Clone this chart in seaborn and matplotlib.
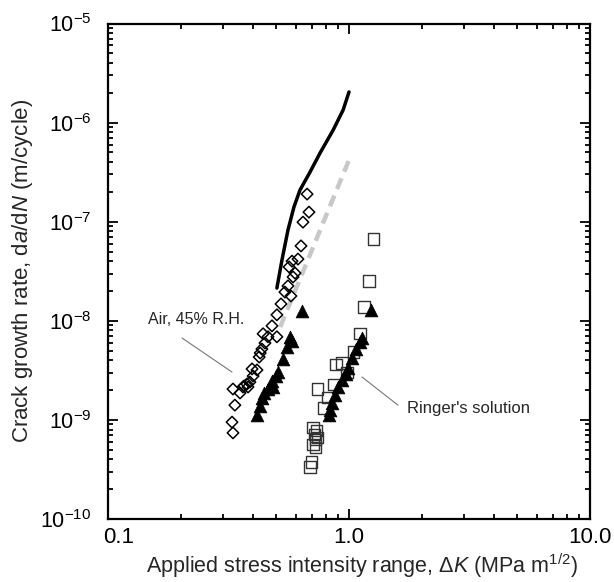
import numpy as np
import pandas as pd
import matplotlib
matplotlib.use("Agg")
import matplotlib.pyplot as plt
import matplotlib.transforms as mtransforms
import seaborn as sns
from matplotlib.ticker import NullFormatter, LogLocator

# values
air_open_dk = [0.670, 0.682, 0.644, 0.632, 0.614, 0.580, 0.564, 0.597, 0.586, 0.558,
               0.542, 0.574, 0.522, 0.502, 0.479, 0.440, 0.461, 0.502, 0.448, 0.435,
               0.428, 0.424, 0.396, 0.415, 0.400, 0.388, 0.377, 0.367, 0.381, 0.363,
               0.330, 0.353, 0.336, 0.327, 0.330]
air_open_rate = [1.90e-7, 1.25e-7, 9.9e-8, 5.7e-8, 4.2e-8, 4.0e-8, 3.5e-8, 3.03e-8, 2.77e-8, 2.25e-8,
                 1.95e-8, 1.78e-8, 1.48e-8, 1.15e-8, 8.9e-9, 7.4e-9, 6.9e-9, 6.9e-9, 5.97e-9, 5.19e-9,
                 4.73e-9, 4.31e-9, 3.27e-9, 3.19e-9, 2.77e-9, 2.41e-9, 2.30e-9, 2.20e-9, 2.15e-9, 2.15e-9,
                 2.05e-9, 1.87e-9, 1.41e-9, 9.5e-10, 7.4e-10]

air_filled_dk = [0.638, 0.569, 0.580, 0.553, 0.532, 0.507, 0.498, 0.479, 0.484, 0.461,
                 0.444, 0.435, 0.427, 0.415]
air_filled_rate = [1.26e-8, 6.9e-9, 6.25e-9, 5.44e-9, 4.12e-9, 3.04e-9, 2.77e-9, 2.47e-9, 2.15e-9, 2.05e-9,
                   1.87e-9, 1.66e-9, 1.38e-9, 1.12e-9]

ringer_open_dk = [1.259, 1.210, 1.154, 1.111, 1.040, 0.935, 0.883, 0.981, 0.866, 0.743,
                  0.818, 0.787, 0.709, 0.736, 0.716, 0.743, 0.723, 0.709, 0.729, 0.696, 0.689]
ringer_open_rate = [6.7e-8, 2.52e-8, 1.38e-8, 7.4e-9, 4.84e-9, 3.75e-9, 3.66e-9, 3.04e-9, 2.3e-9, 2.05e-9,
                    1.70e-9, 1.32e-9, 8.3e-10, 7.9e-10, 7.2e-10, 6.7e-10, 6.3e-10, 5.7e-10, 5.3e-10, 3.76e-10, 3.35e-10]

ringer_filled_dk = [1.234, 1.132, 1.111, 1.069, 1.028, 0.990, 0.972, 0.935, 0.900, 0.874,
                    0.849, 0.834, 0.826]
ringer_filled_rate = [1.29e-8, 6.7e-9, 6.1e-9, 5.19e-9, 4.21e-9, 3.34e-9, 2.9e-9, 2.53e-9, 2.15e-9, 1.79e-9,
                      1.48e-9, 1.26e-9, 1.12e-9]

solid_dk = [0.502, 0.527, 0.558, 0.591, 0.626, 0.689, 0.758, 0.859, 0.945, 1.0]
solid_rate = [2.14e-8, 4.11e-8, 8.24e-8, 1.41e-7, 2.09e-7, 3.17e-7, 4.93e-7, 8.4e-7, 1.34e-6, 2.04e-6]

dashed_dk = [0.518, 1.0]
dashed_rate = [8.65e-9, 4.2e-7]

xticks = [0.1, 1.0, 10.0]
xtick_labels = ["0.1", "1.0", "10.0"]
yticks = [1e-10, 1e-9, 1e-8, 1e-7, 1e-6, 1e-5]
ytick_labels = [r"$10^{-10}$", r"$10^{-9}$", r"$10^{-8}$", r"$10^{-7}$", r"$10^{-6}$", r"$10^{-5}$"]

sns.set_style("ticks")
plt.rcParams["font.family"] = ["Liberation Sans", "DejaVu Sans"]
plt.rcParams["mathtext.fontset"] = "custom"
plt.rcParams["mathtext.rm"] = "Liberation Sans"
plt.rcParams["mathtext.it"] = "Liberation Sans:italic"

fig = plt.figure(figsize=(6.14, 5.82), dpi=100)
ax = fig.add_axes([0.1759, 0.1082, 0.7851, 0.8514])
ax.set_xscale("log")
ax.set_yscale("log")

sns.lineplot(x=dashed_dk, y=dashed_rate, ax=ax, color="#c8c8c8", linewidth=3.2,
             linestyle=(0, (2.6, 1.6)), estimator=None, sort=False)
sns.lineplot(x=solid_dk, y=solid_rate, ax=ax, color="black", linewidth=2.5,
             estimator=None, sort=False)

sns.scatterplot(x=air_open_dk, y=air_open_rate, ax=ax, marker="D", s=34,
                color="none", edgecolor="black", linewidth=1.1, zorder=3)
sns.scatterplot(x=ringer_open_dk, y=ringer_open_rate, ax=ax, marker="s", s=64,
                color="none", edgecolor="#333333", linewidth=1.0, zorder=3)
sns.scatterplot(x=air_filled_dk, y=air_filled_rate, ax=ax, marker="^", s=85,
                color="black", edgecolor="black", linewidth=0.5, zorder=4)
sns.scatterplot(x=ringer_filled_dk, y=ringer_filled_rate, ax=ax, marker="^", s=85,
                color="black", edgecolor="black", linewidth=0.5, zorder=4)

# labels with thin leader lines
ax.plot([0.203, 0.327], [6.7e-9, 3.04e-9], color="#777777", linewidth=0.8)
ax.text(0.1467, 1.04e-8, "Air, 45% R.H.", fontsize=11.5, va="center", ha="left")
ax.plot([1.132, 1.596], [2.71e-9, 1.41e-9], color="#777777", linewidth=0.8)
ax.text(1.741, 1.29e-9, "Ringer's solution", fontsize=12, va="center", ha="left")

ax.set_xlim(0.1, 10.0)
ax.set_ylim(1e-10, 1e-5)
ax.set_xticks(xticks, xtick_labels)
ax.set_yticks(yticks, ytick_labels)
ax.xaxis.set_minor_locator(LogLocator(base=10, subs=np.arange(2, 10)))
ax.yaxis.set_minor_locator(LogLocator(base=10, subs=np.arange(2, 10)))
ax.xaxis.set_minor_formatter(NullFormatter())
ax.yaxis.set_minor_formatter(NullFormatter())

ax.tick_params(which="both", direction="in", top=True, right=True, width=1.3, colors="black")
ax.tick_params(which="major", length=7)
ax.tick_params(which="minor", length=3.5)
ax.tick_params(axis="x", which="major", labelsize=16, pad=6)
ax.tick_params(axis="y", which="major", labelsize=15.5, pad=12)
for sp in ax.spines.values():
    sp.set_linewidth(1.6)
    sp.set_color("black")
    sp.set_visible(True)

# the "0.1" label sits a little to the right of its tick in the original
first = ax.xaxis.get_major_ticks()[0].label1
first.set_transform(first.get_transform() + mtransforms.ScaledTranslation(8 / 72, 0, fig.dpi_scale_trans))

ax.set_xlabel(r"Applied stress intensity range, Δ$\it{K}$ (MPa m$^{1/2}$)", fontsize=15.5)
ax.xaxis.set_label_coords(0.527, -0.066)
ax.set_ylabel(r"Crack growth rate, d$\it{a}$/d$\it{N}$ (m/cycle)", fontsize=16, labelpad=4)

fig.savefig("out.png", dpi=100)
